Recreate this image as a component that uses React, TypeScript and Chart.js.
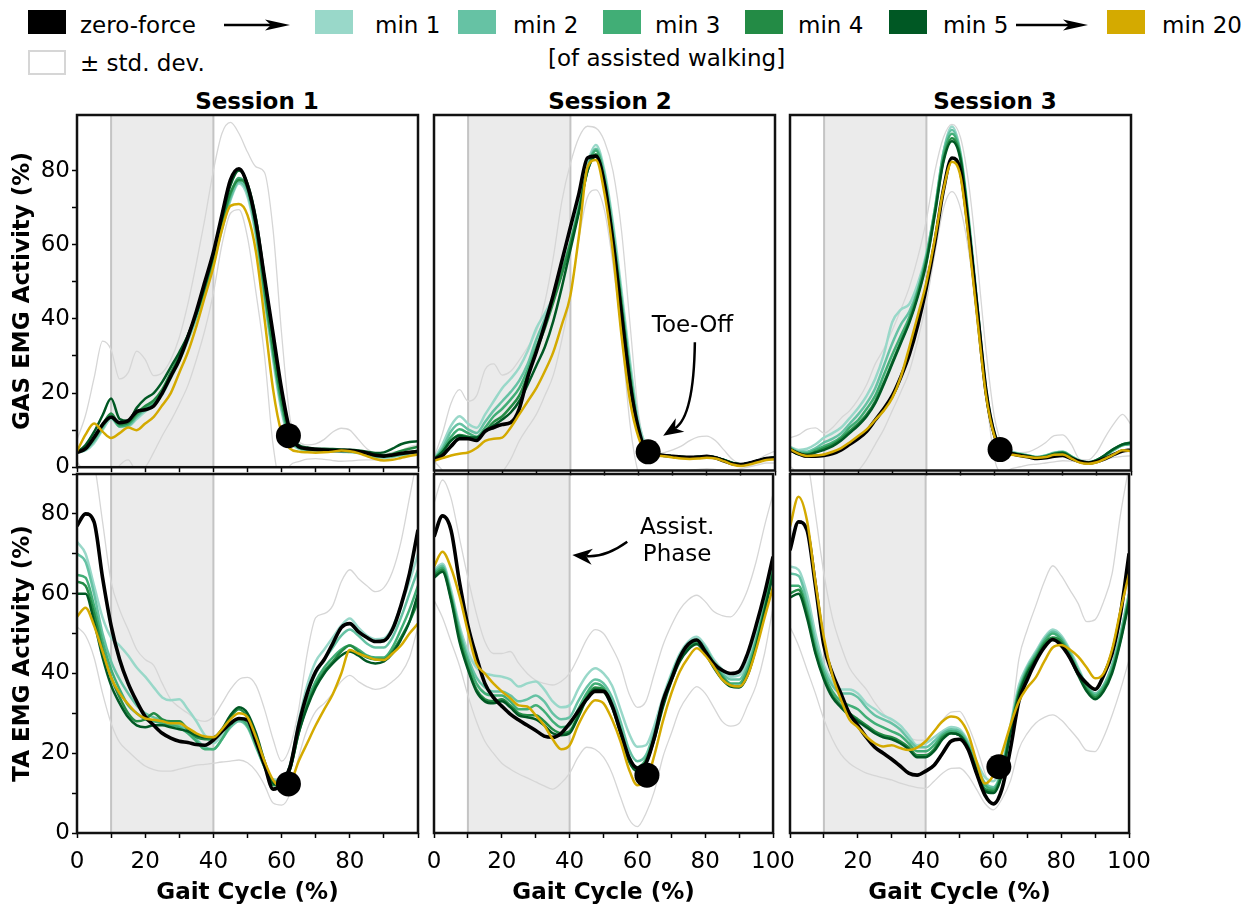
import React, { useEffect, useRef } from 'react';
import { Chart, registerables } from 'chart.js';

Chart.register(...registerables);

const FONT = "'DejaVu Sans', 'Liberation Sans', sans-serif";

// ---------------- data ----------------
const GAIT_X = [0, 2.5, 5, 7.5, 10, 12.5, 15, 17.5, 20, 22.5, 25, 27.5, 30, 32.5, 35, 37.5, 40, 42.5, 45, 47.5, 50, 52.5, 55, 57.5, 60, 62.5, 65, 67.5, 70, 72.5, 75, 77.5, 80, 82.5, 85, 87.5, 90, 92.5, 95, 97.5, 100];

const LEGEND_LABELS = ['zero-force', 'min 1', 'min 2', 'min 3', 'min 4', 'min 5', 'min 20'];
const LINE_COLORS = ['#000000', '#99d8c9', '#66c2a4', '#41ae76', '#238b45', '#005824', '#d4aa00'];
const SD_LABEL = '± std. dev.';
const LEGEND_NOTE = '[of assisted walking]';
const SESSIONS = ['Session 1', 'Session 2', 'Session 3'];
const MUSCLES = ['GAS', 'TA'];
const Y_MAX = [95, 90];
const ASSIST_PHASE = [10, 40];
const TOE_OFF_X = [62, 62.8, 61.6];
const TOE_OFF_GAS = [8.5, 5, 5.6];
const TOE_OFF_TA = [12.3, 14.5, 16.6];
const X_TICK_LABELS = [[0, 20, 40, 60, 80], [0, 20, 40, 60, 80, 100], [20, 40, 60, 80, 100]];
const Y_TICK_LABELS = [0, 20, 40, 60, 80];

// Session 1 - GAS
const S1_GAS_ZF = [4, 5, 8, 11.5, 13.5, 12, 12.5, 15, 15.5, 16.5, 20, 24.5, 29, 35, 42, 50, 58, 68, 77.5, 80.5, 76, 66, 51, 36, 21, 9.6, 5.5, 5, 4.8, 4.6, 4.5, 4.5, 4.5, 4.2, 3.8, 3.2, 3, 3.3, 3.7, 4, 4.2];
const S1_GAS_MIN1 = [4, 4.5, 6.5, 10, 13, 11, 11, 13, 15, 16.5, 19.5, 24, 28.5, 34, 40, 47, 55, 64, 72, 76.5, 73, 62, 45, 29, 15, 7, 5, 4.5, 4.5, 4.5, 4.3, 4.2, 4, 3.8, 3.3, 2.8, 2.6, 2.8, 3.2, 3.5, 3.8];
const S1_GAS_MIN2 = [4, 4.7, 7, 10.5, 14, 11.5, 11.2, 13.5, 15.5, 17, 20, 24.5, 29, 34.5, 40.5, 47.5, 55.5, 64.5, 72.5, 77, 74, 63, 46, 30, 16, 7.5, 5.2, 4.7, 4.6, 4.5, 4.4, 4.3, 4.2, 3.9, 3.4, 2.9, 2.7, 2.9, 3.3, 3.7, 4];
const S1_GAS_MIN3 = [4, 5, 7.5, 11, 13.5, 11, 11.5, 14, 16, 17.5, 20.5, 25, 29.5, 35, 41, 48, 56, 65, 73.5, 78, 75, 64, 47, 31, 17, 8, 5.3, 4.8, 4.7, 4.6, 4.5, 4.4, 4.3, 4, 3.5, 3, 2.8, 3, 3.5, 4, 4.5];
const S1_GAS_MIN4 = [4, 5.2, 8, 11.5, 14.5, 11.5, 12, 14.5, 16.5, 18, 21, 25.5, 30, 35.5, 41.5, 48.5, 56.5, 66, 74, 77.5, 75.5, 65, 48, 32, 18, 8.5, 5.5, 5, 4.8, 4.7, 4.6, 4.5, 4.5, 4.2, 3.8, 3.3, 3.2, 3.6, 4.4, 5, 5.5];
const S1_GAS_MIN5 = [4, 6, 9.5, 14, 18.5, 13, 12.5, 16, 18.5, 20, 23, 27, 31, 35.5, 41.5, 49, 57.5, 67, 76, 80, 76.5, 67, 51, 35, 20, 9, 6, 5.3, 5, 5, 4.9, 4.8, 4.7, 4.5, 4.2, 3.8, 4, 5, 6.2, 6.8, 7];
const S1_GAS_MIN20 = [4.3, 8.8, 11.8, 9.6, 7.9, 9.2, 10.7, 10, 11.8, 13.6, 16.7, 20, 25.5, 31, 38, 46, 54, 64, 70.5, 71, 68, 58, 40, 21, 9.2, 5, 4.2, 4, 3.9, 4, 4.2, 4.5, 4.3, 3.8, 3, 2.2, 1.8, 2, 2.5, 3, 3.4];
const S1_GAS_SD_HI = [7.4, 14, 24, 34, 31.7, 23.8, 25.5, 31.3, 29, 24.7, 25.5, 29, 35, 44, 55, 67, 80, 90, 93, 90, 85, 81, 79.5, 64, 36, 13, 7, 6, 6.3, 7.5, 9.5, 10.5, 10, 7.5, 5, 3.8, 3.6, 4, 4.5, 5.5, 6];
const S1_GAS_SD_LO = [1.5, -2, -6, -6, -3, 0.5, 2, -1, 0, 4, 8.5, 12.5, 17, 22, 29, 37, 47, 60, 68.5, 69.5, 62, 47, 30, 6, -5, 0.5, 1.5, 2.2, 2.3, 2.1, 1.8, 1.6, 1.7, 1.9, 2, 2, 2.2, 2.5, 3.5, 5, 6];

// Session 2 - GAS
const S2_GAS_ZF = [3, 4, 6.5, 8.5, 8.5, 8, 10.5, 11.5, 12.3, 12.8, 16.5, 25, 31.7, 39, 47, 56, 65, 74, 83.5, 84, 76.5, 61, 41.5, 23, 11, 4.8, 4.3, 4, 3.8, 3.6, 3.5, 3.6, 3.8, 3.4, 2.6, 1.8, 1.6, 2, 2.6, 3.2, 3.4];
const S2_GAS_MIN1 = [3, 7, 12, 14.5, 12.5, 11.4, 15, 18.5, 22, 24.5, 27.5, 32, 38, 42, 46.5, 53, 61, 71, 82, 87, 80, 66, 48, 29, 13, 6, 4.5, 4, 3.8, 3.6, 3.5, 3.6, 3.8, 3.5, 2.8, 2, 1.6, 2, 2.6, 3.2, 3.4];
const S2_GAS_MIN2 = [3, 6, 10.5, 12.5, 11, 10, 13, 16, 18.5, 21, 24, 28.5, 35, 40.5, 46, 53, 61, 70.5, 81, 86, 79, 64.5, 46, 27, 12, 5.5, 4.4, 4, 3.8, 3.6, 3.5, 3.6, 3.8, 3.5, 2.8, 2, 1.6, 2, 2.6, 3.2, 3.4];
const S2_GAS_MIN3 = [3, 5.5, 9, 11, 10, 9, 11.5, 14.5, 16.5, 19, 22, 27, 33, 39, 45.5, 53, 61, 70, 80.5, 85.5, 78, 63, 45, 26, 11, 5.2, 4.3, 4, 3.8, 3.6, 3.5, 3.6, 3.8, 3.5, 2.8, 2, 1.6, 2, 2.6, 3.2, 3.4];
const S2_GAS_MIN4 = [3, 5, 8, 9.5, 9, 8.5, 10.5, 13, 14.5, 17, 20, 25.5, 32, 38, 45, 52.5, 60.5, 69.5, 80, 84.5, 77, 62, 44, 25, 10.5, 5, 4.3, 4, 3.8, 3.6, 3.5, 3.6, 3.8, 3.5, 2.8, 2, 1.6, 2, 2.6, 3.2, 3.4];
const S2_GAS_MIN5 = [3, 5, 8, 9.2, 8.8, 8.8, 10.5, 12, 13.6, 15.5, 18.5, 23, 28, 33, 40, 49, 59, 69, 80, 84, 76.5, 61, 43, 24, 10, 5, 4.3, 4, 3.8, 3.6, 3.5, 3.6, 3.8, 3.5, 2.8, 2, 1.6, 2, 2.6, 3.2, 3.4];
const S2_GAS_MIN20 = [2.6, 3.3, 4, 4.5, 4.8, 6, 7.9, 8.5, 8.8, 11.5, 15, 18.5, 22, 26.5, 31.7, 39, 46.8, 62.7, 81, 83, 74, 58, 36, 18.5, 8.8, 4.3, 4, 3.8, 3.5, 3.2, 3.1, 3.2, 3.4, 3.2, 2.5, 1.6, 1.2, 1.6, 2.2, 2.8, 3];
const S2_GAS_SD_HI = [3.4, 10, 18, 21.6, 18.5, 20, 27, 28.5, 25.5, 26.5, 29.5, 33, 37, 45, 57, 72, 82, 89, 92, 91.5, 88, 80, 64, 39, 15, 6, 4.5, 4.8, 5.5, 6.5, 8, 9, 9.2, 8, 5.5, 3, 1.8, 2.2, 3, 4.2, 5.2];
const S2_GAS_SD_LO = [2.6, 0, -3, -5, -6, -6, -5, -3, -0.5, 3, 7.9, 11.5, 15, 20, 25.5, 35, 46.8, 62, 73, 75, 69.5, 55, 36, 12.3, -1, -4, -3, -1.5, -1, -0.5, 0, 0.3, 0.5, 0.3, 0, 0, 0.5, 1, 1.5, 2, 2];

// Session 3 - GAS
const S3_GAS_ZF = [5.5, 4.5, 3.8, 3.8, 4, 4.5, 5.5, 7, 8.5, 10.5, 13.5, 16.5, 20, 25, 31, 39, 49, 61, 75, 83.5, 80, 63, 42, 21, 9.5, 5.2, 4.5, 4, 3.6, 3.2, 3.4, 3.8, 4, 3.2, 2.4, 2, 2.4, 3.2, 4.3, 5.2, 5.5];
const S3_GAS_MIN1 = [6.3, 5.5, 5.8, 7, 8.8, 10, 11.5, 14, 16.7, 20, 24.5, 31, 39.7, 43, 44.5, 50, 58, 70, 85, 91.9, 85, 67, 44, 22, 10, 6, 5, 4.5, 4, 3.6, 4, 4.8, 5, 3.8, 2.6, 2.2, 2.8, 4, 5.5, 6.8, 7];
const S3_GAS_MIN2 = [6.2, 5, 5, 6, 7.5, 8.5, 10, 12.5, 15, 18, 22, 28, 34, 39, 42.5, 48.5, 57.5, 70, 85, 91, 84.5, 66, 43.5, 21.5, 9.8, 5.8, 4.8, 4.4, 4, 3.6, 4, 4.7, 5, 3.8, 2.6, 2.2, 2.8, 4, 5.5, 6.7, 7];
const S3_GAS_MIN3 = [6, 4.8, 4.6, 5.5, 6.5, 7.5, 9, 11.5, 13.5, 16.5, 20, 25.5, 31, 36, 41, 48, 57, 69.5, 84, 90, 84, 65.5, 43, 21, 9.6, 5.6, 4.7, 4.3, 3.9, 3.5, 3.9, 4.6, 4.9, 3.7, 2.5, 2.1, 2.8, 4, 5.6, 6.8, 7.2];
const S3_GAS_MIN4 = [5.8, 4.5, 4.3, 5, 6, 7, 8.5, 10.5, 12.5, 15, 18.5, 23.5, 29, 34.5, 40, 47, 56, 69, 83, 88.8, 83.5, 65, 42.5, 21, 9.4, 5.5, 4.7, 4.3, 3.9, 3.5, 3.8, 4.5, 4.8, 3.6, 2.5, 2.1, 2.8, 4.2, 5.8, 7, 7.5];
const S3_GAS_MIN5 = [5.7, 4.3, 4.2, 4.8, 5.5, 6.5, 8, 10, 12, 14.5, 18, 23, 28.5, 34, 39.5, 46.5, 55.5, 68.5, 82.5, 88, 83, 65, 42, 20.5, 9.2, 5.4, 4.6, 4.2, 3.8, 3.4, 3.7, 4.4, 4.7, 3.5, 2.4, 2, 2.8, 4.2, 5.8, 7, 7.4];
const S3_GAS_MIN20 = [5.7, 4.5, 3.9, 4, 4.3, 5, 6, 7.5, 9.2, 11, 13.5, 16, 19.4, 25, 33, 41.5, 50.3, 62, 75, 82.5, 78.6, 61, 40, 20, 9, 4.8, 4.2, 3.9, 3.6, 3.4, 3.6, 4.2, 4.3, 3.2, 2.1, 1.8, 2.2, 3.2, 4.3, 5.4, 5.2];
const S3_GAS_SD_HI = [8.8, 9.5, 11, 11.4, 10, 11.5, 14, 16, 19, 23, 28.5, 32.5, 37.5, 43, 49, 57, 67, 80, 89, 92.5, 89, 76, 55, 32, 14, 6.5, 5, 4.8, 5, 6, 7.5, 9.3, 9.5, 7, 3, 2.8, 5, 9, 12.5, 15, 12.3];
const S3_GAS_SD_LO = [1.2, -1, -3, -4, -4, -3.5, -3, -1.5, 0, 3, 7, 11, 16, 21, 26.5, 35, 45, 58, 70, 74.5, 70, 58, 40, 20, 3, -0.5, 0.5, 1, 1.5, 1.7, 2, 2.3, 2.6, 2.5, 2.3, 2.2, 2.5, 3, 3.5, 3.8, 3.9];

// Session 1 - TA
const S1_TA_ZF = [77, 80, 78, 64, 52, 43.5, 37.5, 33, 29.2, 27, 25, 23.8, 23, 22.7, 22.2, 22, 23.3, 25.5, 27.5, 28.7, 28.3, 23, 17, 11, 12.4, 16.6, 27, 35, 40.5, 43.5, 47.5, 51.5, 52.5, 50.5, 49, 48, 48.2, 51, 57, 65, 76];
const S1_TA_MIN1 = [73, 70, 62, 54, 49, 47, 44.5, 41.5, 39.2, 36.5, 34, 33.3, 33.5, 31, 28, 24.5, 22.5, 24.5, 27, 28.5, 27, 22, 17.5, 13.5, 13.3, 17, 28, 37, 43, 46, 49, 52, 53.8, 51.5, 49.5, 48.6, 48.8, 51.5, 57, 63, 70];
const S1_TA_MIN2 = [70, 68, 60, 50, 43, 38.5, 35, 32, 30, 29, 28.3, 27.5, 27, 25.5, 23.5, 21.5, 21, 23.5, 26.5, 28, 26.5, 21.5, 16.5, 13, 13, 17, 27, 35, 40, 43.5, 46.5, 49.5, 51, 49.5, 47.5, 46.5, 46.5, 49, 54, 60, 66];
const S1_TA_MIN3 = [64.7, 64, 57, 48, 41, 36, 32, 30, 28.5, 28, 27.5, 27, 26.5, 25, 23, 21, 21, 23.5, 27, 28.5, 27, 22, 16.5, 12.5, 12.5, 17, 26, 33, 38, 41.5, 44, 46, 47, 46, 44.5, 44, 44, 46.5, 51, 56, 62];
const S1_TA_MIN4 = [63, 62, 55, 46, 39, 34, 30, 28, 28.5, 30, 28.5, 28, 28, 26, 24, 23.5, 23.5, 25.5, 29, 31, 29, 24, 17, 12, 12, 16, 25, 32, 37, 40.5, 43, 45.5, 47, 45.5, 44, 43.5, 43.5, 45.5, 49, 53, 58];
const S1_TA_MIN5 = [60, 60, 53, 44, 37, 32.5, 29, 27, 26.5, 27, 27, 26.5, 26, 25.5, 24.5, 24, 24, 26, 29.5, 31.5, 30, 25, 18, 12.5, 12, 16, 25, 31.5, 36.5, 40, 42.5, 44.5, 45.5, 44.5, 43, 42.5, 43, 45, 48.5, 53, 60];
const S1_TA_MIN20 = [54.2, 56.5, 52, 45.5, 39, 35, 32.3, 30, 28.7, 28.4, 28, 27.5, 27.5, 26.3, 25, 24.2, 24, 26, 28.5, 30, 29, 24, 18, 13.3, 11.6, 12.5, 18, 22.5, 27, 31, 34.8, 40, 45.9, 45, 44.2, 43.5, 43.4, 45, 47, 50, 52.5];
const S1_TA_SD_HI = [105, 100, 93, 78, 63, 56, 51, 46, 43.5, 42, 37.5, 33.5, 31.5, 30, 28.5, 28, 29.2, 32.5, 36, 38.5, 39, 37, 31, 23.5, 18, 21.6, 31, 45, 54, 55, 57, 63, 66, 63.8, 62, 60.5, 61.5, 65.5, 73, 84, 95];
const S1_TA_SD_LO = [51.7, 49.5, 44, 35, 27.5, 22.7, 20.5, 18.5, 16.8, 15.9, 15.5, 15.5, 16, 16.5, 17, 17.2, 17.5, 17.8, 18, 18.3, 17.6, 15.5, 12, 7.5, 7, 10, 19, 26, 30.5, 32.5, 35, 38, 39.5, 38, 36.7, 36, 36.5, 38, 40, 44, 51.7];

// Session 2 - TA
const S2_TA_ZF = [74.3, 79.5, 76, 63, 52, 44.2, 37.5, 34, 31.8, 29.8, 28.3, 27, 25.7, 24.3, 24, 25, 27.5, 30.5, 33.5, 35.5, 35.5, 32, 25.5, 19, 16.3, 17.5, 24, 33, 38.5, 44, 47.3, 48.4, 45.5, 42.5, 40.8, 40, 40.5, 45, 52, 60, 69.3];
const S2_TA_MIN1 = [66, 67.5, 61, 52, 45.5, 41.5, 40, 39.5, 39.2, 38.5, 36.7, 37.5, 38, 36, 33, 31.5, 32, 36, 39.5, 41.3, 40, 37, 31, 25, 21.6, 22, 27, 34, 40, 45, 48, 49.2, 47, 43.5, 41, 39.2, 39.5, 43, 50, 58, 68.4];
const S2_TA_MIN2 = [65.5, 67, 60, 51, 44, 39, 36.5, 35.5, 35.5, 34.5, 33, 33.5, 34.5, 33, 30, 28.5, 29, 33, 36.5, 38.5, 37.5, 34, 28, 21, 18, 19.5, 25.5, 33, 39.5, 44.5, 47.5, 48.5, 46.5, 43, 40, 38.5, 38.5, 42, 48.5, 57, 67];
const S2_TA_MIN3 = [65, 66.5, 59.5, 50, 43, 37.5, 35, 34.5, 34.5, 33, 31, 31, 32, 30.5, 28, 26.5, 27, 31, 35, 37.5, 36.5, 32.5, 26, 19, 16.5, 18.5, 24.5, 32.5, 39, 44, 47, 48, 46, 42.5, 39.5, 37.5, 37.5, 41, 48, 56.5, 66];
const S2_TA_MIN4 = [64.5, 66, 59, 49, 41.5, 36, 33.5, 33, 33.5, 32, 30, 29.5, 29.5, 28, 26, 25, 25.5, 29.5, 34, 36.5, 36, 32, 25.5, 18.5, 15.8, 18, 24, 32, 38.5, 43.5, 46.5, 47.5, 45.5, 42, 39, 37, 36.7, 40, 47, 56, 65.5];
const S2_TA_MIN5 = [64, 65.5, 58.5, 48, 41, 35.5, 33, 32.5, 33, 31.5, 29.5, 29, 28.5, 27, 25, 24.5, 25, 29, 33.5, 36, 35.5, 31.5, 25, 18, 15.5, 17.5, 23.5, 31.5, 38, 43, 46, 47.3, 45, 41.5, 38.5, 36.7, 36.5, 39.5, 46.5, 55.5, 65];
const S2_TA_MIN20 = [66.8, 70.5, 66.5, 59.5, 50.5, 42.5, 40, 37.5, 35.5, 33.8, 32, 31.7, 29.5, 27, 23.5, 21, 22, 27, 31, 33.3, 32.5, 28.5, 23, 16, 12, 13, 19.5, 28, 35, 40.5, 44, 46.3, 44.5, 41.7, 38.5, 37, 36.7, 39.5, 46, 54, 61.7];
const S2_TA_SD_HI = [82.6, 88.5, 84, 74, 64, 55, 48, 45, 45, 45.5, 42.5, 40, 38.3, 37.5, 37.1, 38, 40, 44, 48.5, 51, 50, 46.5, 42, 35, 31.5, 33, 40, 47, 52, 56, 58.5, 59.6, 58, 55.5, 54.5, 54.2, 56.5, 61, 68, 77, 85];
const S2_TA_SD_LO = [58.4, 54, 48, 42, 34.5, 28, 23, 20, 17.5, 16, 14.8, 13.8, 12.8, 11.8, 11, 12.5, 15, 19, 21.5, 21, 19, 15, 9, 3.5, 1.6, 4.9, 10.5, 19, 25, 31, 34.5, 36.7, 35, 31.5, 28, 26.8, 27.5, 32, 37, 45, 56.7];

// Session 3 - TA
const S3_TA_ZF = [70.9, 78, 76, 62, 47, 40, 35, 30, 27, 24, 21.5, 20, 18.5, 16.8, 15, 14.5, 15.5, 17, 20, 23, 23.5, 21, 15, 9.5, 7.3, 11, 21, 33, 38.5, 43, 46.5, 48.5, 47, 44, 40, 37.5, 36, 39.5, 45, 55, 70.1];
const S3_TA_MIN1 = [66.8, 66, 60, 50, 42, 38, 36, 36, 35, 32.5, 31, 29.5, 28.5, 27, 24.5, 22, 22.5, 24, 25.5, 26.6, 26, 23, 18, 14, 13, 17, 27, 37, 42, 45.5, 49, 51, 49.5, 46, 41.5, 37, 35, 37, 42, 50, 60];
const S3_TA_MIN2 = [65, 64.5, 58, 48, 41, 37, 35, 35, 34, 31.5, 29.5, 28.5, 27.5, 26, 23.5, 21.5, 21.5, 23, 25, 26, 25.5, 22.5, 17, 12.5, 11.5, 16, 26.5, 36, 41.5, 45, 48.5, 50.5, 49, 45.5, 41, 37, 35, 37, 42, 50, 60];
const S3_TA_MIN3 = [62, 62, 56, 46.5, 40, 35.5, 33, 32, 31, 29, 27.5, 26.5, 25.5, 24.5, 22.5, 20.5, 20.5, 22, 24.5, 25.5, 25, 22, 16.5, 12, 11, 15.5, 26, 35.5, 41, 44.5, 48, 50, 48.5, 45, 40.5, 36.5, 34.5, 36.5, 41, 49, 59];
const S3_TA_MIN4 = [60, 61, 55, 45.5, 39, 34.5, 32, 30, 28.5, 27, 25.5, 24.5, 24, 23, 21.5, 19.5, 19.5, 21, 24, 25, 24.5, 21.5, 16, 11, 10.5, 15, 25.5, 35, 40.5, 44, 47.5, 49, 48, 44.5, 40, 36, 34, 36, 40.5, 48.5, 58.5];
const S3_TA_MIN5 = [59, 60, 54, 45, 38.5, 34, 31.5, 29.5, 28, 26.5, 25, 24, 23.5, 22.5, 21, 19, 19, 20.5, 23.5, 25, 24.5, 21.5, 15.5, 10.5, 10, 14.5, 25, 34.5, 40, 43.5, 47, 48.4, 47.5, 44, 39.5, 35.5, 33.5, 35.5, 40, 48, 58];
const S3_TA_MIN20 = [76.8, 84.3, 78.4, 63, 49, 39.5, 33.5, 28.5, 26.5, 24.2, 22.5, 21.7, 22, 21.3, 20.8, 21.4, 23, 25.5, 28, 29.2, 28.5, 25, 18, 12.4, 14.5, 20, 27, 33, 36.5, 39, 43, 46.5, 47.1, 46, 44.2, 41.5, 38.8, 40, 46, 55.9, 65];
const S3_TA_SD_HI = [93, 98, 94, 80, 65, 54, 47, 41.5, 38.5, 36, 32.7, 30, 27.7, 25.5, 24, 23.3, 23.3, 25.5, 28.3, 30.3, 30.5, 27, 21.5, 15, 10, 15, 26, 43.5, 51, 57, 63, 67, 64.5, 61, 57.5, 53, 53.5, 58, 65, 80, 92];
const S3_TA_SD_LO = [51.7, 47, 41, 35, 28.5, 23.5, 19.8, 17.5, 16.1, 15, 14.4, 13.8, 13.3, 12.5, 11.9, 11.4, 11.2, 13, 15, 16.2, 16.3, 14.4, 11, 7.4, 5.8, 8.5, 13, 21, 25, 27.6, 29, 29.6, 28.3, 26, 23.5, 20.7, 20.4, 24, 29.5, 36, 43.4];

const GAS_SERIES = [
  [S1_GAS_ZF, S1_GAS_MIN1, S1_GAS_MIN2, S1_GAS_MIN3, S1_GAS_MIN4, S1_GAS_MIN5, S1_GAS_MIN20],
  [S2_GAS_ZF, S2_GAS_MIN1, S2_GAS_MIN2, S2_GAS_MIN3, S2_GAS_MIN4, S2_GAS_MIN5, S2_GAS_MIN20],
  [S3_GAS_ZF, S3_GAS_MIN1, S3_GAS_MIN2, S3_GAS_MIN3, S3_GAS_MIN4, S3_GAS_MIN5, S3_GAS_MIN20],
];
const GAS_SD = [[S1_GAS_SD_HI, S1_GAS_SD_LO], [S2_GAS_SD_HI, S2_GAS_SD_LO], [S3_GAS_SD_HI, S3_GAS_SD_LO]];
const TA_SERIES = [
  [S1_TA_ZF, S1_TA_MIN1, S1_TA_MIN2, S1_TA_MIN3, S1_TA_MIN4, S1_TA_MIN5, S1_TA_MIN20],
  [S2_TA_ZF, S2_TA_MIN1, S2_TA_MIN2, S2_TA_MIN3, S2_TA_MIN4, S2_TA_MIN5, S2_TA_MIN20],
  [S3_TA_ZF, S3_TA_MIN1, S3_TA_MIN2, S3_TA_MIN3, S3_TA_MIN4, S3_TA_MIN5, S3_TA_MIN20],
];
const TA_SD = [[S1_TA_SD_HI, S1_TA_SD_LO], [S2_TA_SD_HI, S2_TA_SD_LO], [S3_TA_SD_HI, S3_TA_SD_LO]];

// ---------------- layout / style ----------------
const PANEL_LEFT = [77, 434, 790];
const PANEL_W = 341;
const ROW_TOP = [115, 474];
const ROW_H = [358, 359];
const AXIS_W = 77;
const PAD_TOP = 20;
const PAD_RIGHT = 30;
const X_AXIS_H = [10, 75];
const SD_COLOR = '#d6d6d6';
const TITLE_CX = [257, 610, 995];
const SWATCH_X = [28, 315, 458, 603, 745, 889, 1107];
const LABEL_X = [80, 375, 513, 655, 798, 943, 1162];

const toPts = (arr: number[]) => GAIT_X.map((x, i) => ({ x, y: arr[i] }));

function drawArrow(ctx: CanvasRenderingContext2D, p0: number[], c: number[], p1: number[]) {
  const ang = Math.atan2(p1[1] - c[1], p1[0] - c[0]);
  const L = 20, W = 8;
  const ex = p1[0] - Math.cos(ang) * L * 0.7;
  const ey = p1[1] - Math.sin(ang) * L * 0.7;
  ctx.save();
  ctx.strokeStyle = '#000';
  ctx.fillStyle = '#000';
  ctx.lineWidth = 2.5;
  ctx.beginPath();
  ctx.moveTo(p0[0], p0[1]);
  ctx.quadraticCurveTo(c[0], c[1], ex, ey);
  ctx.stroke();
  const bx = p1[0] - Math.cos(ang) * L;
  const by = p1[1] - Math.sin(ang) * L;
  const nx = -Math.sin(ang), ny = Math.cos(ang);
  ctx.beginPath();
  ctx.moveTo(p1[0], p1[1]);
  ctx.lineTo(bx + nx * W, by + ny * W);
  ctx.lineTo(p1[0] - Math.cos(ang) * L * 0.7, p1[1] - Math.sin(ang) * L * 0.7);
  ctx.lineTo(bx - nx * W, by - ny * W);
  ctx.closePath();
  ctx.fill();
  ctx.restore();
}

function Panel({ si, row }: { si: number; row: number }) {
  const ref = useRef<HTMLCanvasElement | null>(null);
  const isLeft = si === 0;
  const isBottom = row === 1;
  const cw = AXIS_W + PANEL_W + PAD_RIGHT;
  const ch = PAD_TOP + ROW_H[row] + X_AXIS_H[row];
  const left = PANEL_LEFT[si] - AXIS_W;
  const top = ROW_TOP[row] - PAD_TOP;

  useEffect(() => {
    const series = row === 0 ? GAS_SERIES[si] : TA_SERIES[si];
    const sd = row === 0 ? GAS_SD[si] : TA_SD[si];
    const toeY = row === 0 ? TOE_OFF_GAS[si] : TOE_OFF_TA[si];
    const drawOrder = [6, 0, 5, 4, 3, 2, 1];
    const datasets: any[] = [];
    datasets.push({
      label: 'Toe-Off',
      data: [{ x: TOE_OFF_X[si], y: toeY }],
      showLine: false,
      pointRadius: 12.5,
      pointBackgroundColor: '#000',
      pointBorderWidth: 0,
      clip: false,
    });
    drawOrder.forEach((k) => {
      datasets.push({
        label: LEGEND_LABELS[k],
        data: toPts(series[k]),
        borderColor: LINE_COLORS[k],
        borderWidth: k === 0 ? 3.6 : 2.5,
        pointRadius: 0,
        cubicInterpolationMode: 'monotone',
        fill: false,
      });
    });
    sd.forEach((arr, j) => {
      datasets.push({
        label: j === 0 ? '+SD' : '-SD',
        data: toPts(arr),
        borderColor: SD_COLOR,
        borderWidth: 1.3,
        pointRadius: 0,
        cubicInterpolationMode: 'monotone',
        fill: false,
      });
    });

    const shade = {
      id: 'assistShade',
      beforeDatasetsDraw(chart: any) {
        const { ctx, chartArea: a, scales } = chart;
        const x0 = scales.x.getPixelForValue(ASSIST_PHASE[0]);
        const x1 = scales.x.getPixelForValue(ASSIST_PHASE[1]);
        ctx.save();
        ctx.fillStyle = '#ebebeb';
        ctx.fillRect(x0, a.top, x1 - x0, a.bottom - a.top);
        ctx.strokeStyle = '#c4c4c4';
        ctx.lineWidth = 2;
        ctx.beginPath();
        ctx.moveTo(x0, a.top); ctx.lineTo(x0, a.bottom);
        ctx.moveTo(x1, a.top); ctx.lineTo(x1, a.bottom);
        ctx.stroke();
        ctx.restore();
      },
    };
    const frame = {
      id: 'frameAndNotes',
      afterDraw(chart: any) {
        const { ctx, chartArea: a, scales } = chart;
        ctx.save();
        ctx.strokeStyle = '#111';
        ctx.lineWidth = 2.5;
        ctx.strokeRect(a.left, a.top, a.right - a.left, a.bottom - a.top);
        const px = (x: number, y: number) => [scales.x.getPixelForValue(x), scales.y.getPixelForValue(y)];
        ctx.fillStyle = '#000';
        ctx.font = `23px ${FONT}`;
        ctx.textAlign = 'center';
        ctx.textBaseline = 'middle';
        if (si === 1 && row === 0) {
          const t = px(75.8, 38.7);
          ctx.fillText('Toe-Off', t[0], t[1]);
          drawArrow(ctx, px(76.5, 34.3), px(76.2, 14.5), px(67.2, 9.3));
        }
        if (si === 1 && row === 1) {
          const t1 = px(71.7, 76.4);
          const t2 = px(71.7, 69.7);
          ctx.fillText('Assist.', t1[0], t1[1]);
          ctx.fillText('Phase', t2[0], t2[1]);
          drawArrow(ctx, px(57, 73), px(50.5, 69), px(40.8, 69.7));
        }
        ctx.restore();
      },
    };

    const tickFont = { family: FONT, size: 23 };
    const titleFont = { family: FONT, size: 23, weight: 'bold' as const };
    const gridCfg = { display: true, drawOnChartArea: false, drawTicks: true, tickLength: 5, tickColor: '#000', tickWidth: 1.5 };

    const chart = new Chart(ref.current as HTMLCanvasElement, {
      type: 'line',
      data: { datasets },
      plugins: [shade, frame],
      options: {
        responsive: false,
        maintainAspectRatio: false,
        animation: false,
        events: [],
        layout: { padding: { left: isLeft ? 0 : AXIS_W, top: PAD_TOP, right: PAD_RIGHT, bottom: 0 } },
        plugins: { legend: { display: false }, tooltip: { enabled: false }, title: { display: false } },
        scales: {
          x: {
            type: 'linear',
            min: 0,
            max: 100,
            afterFit: (s: any) => { s.height = X_AXIS_H[row]; },
            ticks: {
              stepSize: 10,
              autoSkip: false,
              maxRotation: 0,
              minRotation: 0,
              padding: 10,
              color: '#000',
              font: tickFont,
              callback: (v: any) => (isBottom && X_TICK_LABELS[si].includes(Number(v)) ? String(v) : ''),
            },
            grid: gridCfg,
            border: { display: false },
            title: { display: isBottom, text: 'Gait Cycle (%)', color: '#000', font: titleFont, padding: { top: 0, bottom: 1 } },
          },
          y: {
            type: 'linear',
            display: isLeft,
            min: 0,
            max: Y_MAX[row],
            afterBuildTicks: (s: any) => { s.ticks = s.ticks.filter((t: any) => t.value % 10 === 0); },
            afterFit: (s: any) => { s.width = isLeft ? AXIS_W : 0; },
            ticks: {
              stepSize: 10,
              autoSkip: false,
              padding: 2,
              color: '#000',
              font: tickFont,
              callback: (v: any) => (Y_TICK_LABELS.includes(Number(v)) ? String(v) : ''),
            },
            grid: gridCfg,
            border: { display: false },
            title: { display: true, text: `${MUSCLES[row]} EMG Activity (%)`, color: '#000', font: titleFont, padding: { top: 9, bottom: 0 } },
          },
        },
      } as any,
    });
    return () => chart.destroy();
  }, []);

  return (
    <canvas
      ref={ref}
      width={cw}
      height={ch}
      style={{ position: 'absolute', left, top, width: cw, height: ch }}
    />
  );
}

function Legend() {
  const textStyle = (x: number, baseline: number): React.CSSProperties => ({
    position: 'absolute', left: x, top: baseline - 19.5, fontSize: 23, lineHeight: '23px', whiteSpace: 'nowrap',
  });
  return (
    <>
      {LEGEND_LABELS.map((lab, i) => (
        <React.Fragment key={lab}>
          <div style={{ position: 'absolute', left: SWATCH_X[i], top: 10, width: 38, height: 24, background: LINE_COLORS[i] }} />
          <div style={textStyle(LABEL_X[i], 33)}>{lab}</div>
        </React.Fragment>
      ))}
      <div style={{ position: 'absolute', left: 28, top: 50, width: 34, height: 21, border: '2px solid #d6d6d6', background: '#fff' }} />
      <div style={textStyle(80, 71)}>{SD_LABEL}</div>
      <div style={textStyle(548, 66)}>{LEGEND_NOTE}</div>
      <svg style={{ position: 'absolute', left: 0, top: 0 }} width={1250} height={50}>
        {[[224, 290], [1016, 1088]].map(([a, b], i) => (
          <g key={i}>
            <line x1={a} y1={25} x2={b - 15} y2={25} stroke="#000" strokeWidth={2.5} />
            <polygon points={`${b},25 ${b - 25},19.5 ${b - 19},25 ${b - 25},30.5`} fill="#000" />
          </g>
        ))}
      </svg>
    </>
  );
}

export default function App() {
  return (
    <div style={{ position: 'absolute', left: 0, top: 0, width: 1250, height: 908, background: '#fff', overflow: 'hidden', fontFamily: FONT, color: '#000' }}>
      <Legend />
      {SESSIONS.map((t, i) => (
        <div key={t} style={{ position: 'absolute', left: TITLE_CX[i] - 100, width: 200, top: 89.5, textAlign: 'center', fontSize: 23, lineHeight: '23px', fontWeight: 'bold' }}>{t}</div>
      ))}
      {[0, 1].map((row) => [0, 1, 2].map((si) => <Panel key={`${row}-${si}`} si={si} row={row} />))}
    </div>
  );
}
